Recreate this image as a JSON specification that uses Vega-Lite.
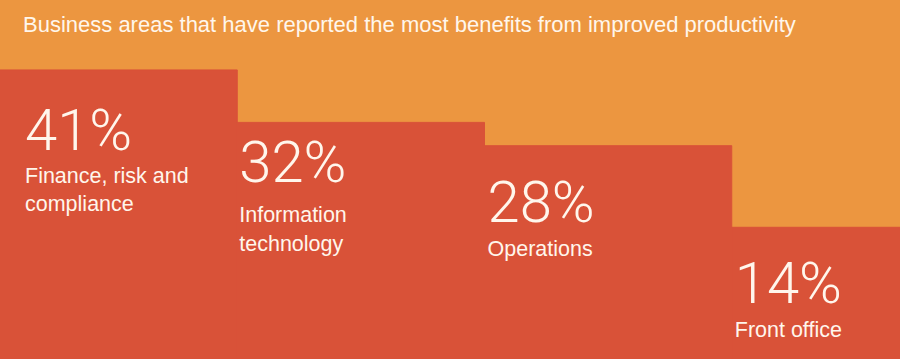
{
  "$schema": "https://vega.github.io/schema/vega-lite/v6.json",
  "width": 900,
  "height": 359,
  "autosize": {"type": "none"},
  "padding": 0,
  "background": "#EC9640",
  "config": {"view": {"stroke": null}},
  "title": {
    "text": "Business areas that have reported the most benefits from improved productivity",
    "anchor": "start",
    "orient": "top",
    "frame": "group",
    "offset": 0,
    "baseline": "alphabetic",
    "dx": 23,
    "dy": 54,
    "font": "Liberation Sans",
    "fontSize": 22,
    "fontWeight": "normal",
    "color": "#FFF6EC"
  },
  "data": {
    "values": [
      {"area": "Finance, risk and\ncompliance", "value": 41, "grp": "A"},
      {"area": "Information\ntechnology", "value": 32, "grp": "B"},
      {"area": "Operations", "value": 28, "grp": "C"},
      {"area": "Front office", "value": 14, "grp": "C"}
    ]
  },
  "transform": [{"calculate": "datum.value + '%'", "as": "pct"}],
  "encoding": {
    "x": {
      "field": "area",
      "type": "nominal",
      "sort": null,
      "axis": null,
      "scale": {"range": [-10, 979], "paddingInner": 0, "paddingOuter": 0}
    },
    "y": {
      "field": "value",
      "type": "quantitative",
      "axis": null,
      "scale": {"domain": [-8.6, 53], "zero": false, "nice": false}
    }
  },
  "layer": [
    {
      "mark": {"type": "bar", "color": "#D95238", "stroke": "#D95238", "strokeWidth": 1, "clip": true},
      "encoding": {"y2": {"datum": -8.6}}
    },
    {
      "transform": [{"filter": "datum.grp === 'A'"}],
      "mark": {"type": "text", "align": "left", "baseline": "alphabetic", "dx": 35, "dy": 80, "font": "Roboto", "fontWeight": 300, "fontSize": 58, "color": "#FFF6EC"},
      "encoding": {"x": {"field": "area", "type": "nominal", "sort": null, "bandPosition": 0}, "text": {"field": "pct"}}
    },
    {
      "transform": [{"filter": "datum.grp === 'B'"}],
      "mark": {"type": "text", "align": "left", "baseline": "alphabetic", "dx": 2, "dy": 60, "font": "Roboto", "fontWeight": 300, "fontSize": 58, "color": "#FFF6EC"},
      "encoding": {"x": {"field": "area", "type": "nominal", "sort": null, "bandPosition": 0}, "text": {"field": "pct"}}
    },
    {
      "transform": [{"filter": "datum.grp === 'C'"}],
      "mark": {"type": "text", "align": "left", "baseline": "alphabetic", "dx": 3, "dy": 76, "font": "Roboto", "fontWeight": 300, "fontSize": 58, "color": "#FFF6EC"},
      "encoding": {"x": {"field": "area", "type": "nominal", "sort": null, "bandPosition": 0}, "text": {"field": "pct"}}
    },
    {
      "transform": [{"filter": "datum.grp === 'A'"}],
      "mark": {"type": "text", "align": "left", "baseline": "alphabetic", "lineBreak": "\n", "lineHeight": 28.4, "dx": 35, "dy": 113, "font": "Liberation Sans", "fontSize": 21.5, "color": "#FFF6EC"},
      "encoding": {"x": {"field": "area", "type": "nominal", "sort": null, "bandPosition": 0}, "text": {"field": "area"}}
    },
    {
      "transform": [{"filter": "datum.grp === 'B'"}],
      "mark": {"type": "text", "align": "left", "baseline": "alphabetic", "lineBreak": "\n", "lineHeight": 28.4, "dx": 2, "dy": 100, "font": "Liberation Sans", "fontSize": 21.5, "color": "#FFF6EC"},
      "encoding": {"x": {"field": "area", "type": "nominal", "sort": null, "bandPosition": 0}, "text": {"field": "area"}}
    },
    {
      "transform": [{"filter": "datum.grp === 'C'"}],
      "mark": {"type": "text", "align": "left", "baseline": "alphabetic", "lineBreak": "\n", "lineHeight": 28.4, "dx": 3, "dy": 110, "font": "Liberation Sans", "fontSize": 21.5, "color": "#FFF6EC"},
      "encoding": {"x": {"field": "area", "type": "nominal", "sort": null, "bandPosition": 0}, "text": {"field": "area"}}
    }
  ]
}
